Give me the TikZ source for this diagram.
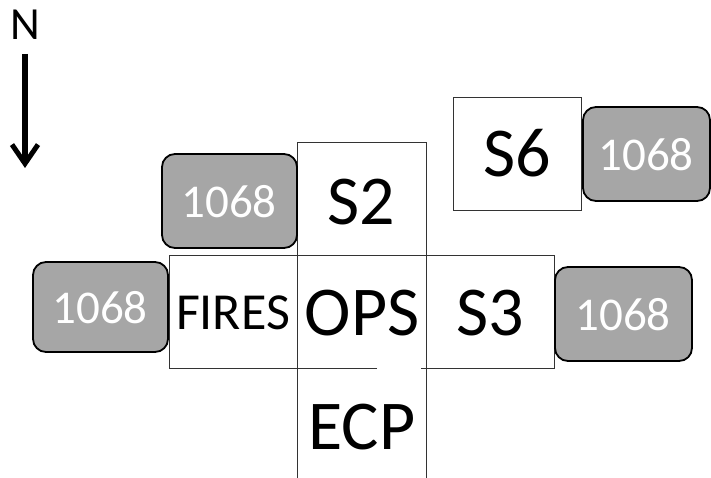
\documentclass[tikz,border=0pt]{standalone}
\usepackage{fontspec}
\setmainfont{Carlito}
\usetikzlibrary{arrows.meta}
\definecolor{boxgray}{HTML}{A6A6A6}
\tikzset{
  room/.style={draw=black!80, line width=0.9pt},
  big/.style={font=\fontsize{70}{70}\selectfont, inner sep=0pt},
  mid/.style={font=\fontsize{52}{52}\selectfont, inner sep=0pt},
  tag/.style={draw=black, line width=1.8pt, fill=boxgray, rounded corners=13pt},
  tagtext/.style={text=white, font=\fontsize{47}{47}\selectfont, inner sep=0pt},
}
\begin{document}
\begin{tikzpicture}[x=1pt, y=-1pt]
\useasboundingbox (0,0) rectangle (711,478);

% cells of the plan
\draw[room] (297,255) -- (297,142) -- (426,142) -- (426,255);
\draw[room] (169,255) rectangle (297,368);
\draw[room] (169,255) -- (554,255) -- (554,368) -- (421,368);
\draw[room] (377,368) -- (169,368);
\draw[room] (297,255) -- (297,478);
\draw[room] (426,255) -- (426,478);
\draw[room] (453,97) rectangle (581,210);

% labels of the cells
\node[big] (s2) at (361,202) {S2};
\node[big] (ops) at (362,313) {OPS};
\node[mid] (fires) at (233,313) {FIRES};
\node[big] (s3) at (490,313) {S3};
\node[big] (ecp) at (362,427) {ECP};
\node[big] (s6) at (517,153) {S6};

% grey tags
\path[tag] (583,107) rectangle (710,201);
\node[tagtext] (t1) at (646,155) {1068};
\path[tag] (162,154) rectangle (297,248);
\node[tagtext] (t2) at (229,202) {1068};
\path[tag] (33,262) rectangle (168,352);
\node[tagtext] (t3) at (100,308) {1068};
\path[tag] (555,267) rectangle (692,361);
\node[tagtext] (t4) at (623,315) {1068};

% north arrow
\node[font=\fontsize{46}{46}\selectfont, inner sep=0pt] (north) at (25,25) {N};
\coordinate (a0) at (25,54);
\coordinate (a1) at (25,168);
\draw[line width=5.5pt, -{Straight Barb[length=19pt, width=26pt, line width=5pt]}] (a0) -- (a1);
\end{tikzpicture}
\end{document}
